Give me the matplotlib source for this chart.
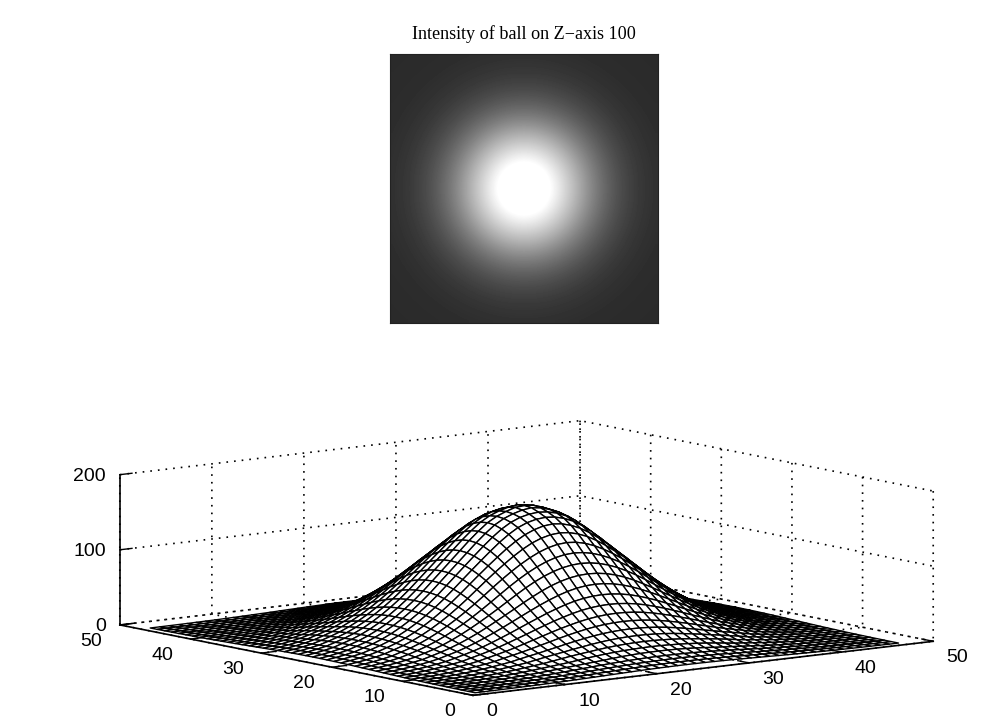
import numpy as np
import matplotlib
matplotlib.use('Agg')
from matplotlib import pyplot as plt

# height of the ball against distance from its centre
radius = list(range(34))
height = [173, 172, 168, 163, 156, 146, 135, 123, 111, 99, 87, 75, 64, 54, 45, 37, 30,
          24, 19, 15, 11, 8.5, 6.3, 4.6, 3.3, 2.3, 1.6, 1.1, 0.7, 0.5, 0.3, 0.2, 0.1, 0.1]
grid_index = list(range(1, 48))
ball_centre = 24

title = 'Intensity of ball on Z\u2212axis 100'
xy_ticks = [0, 10, 20, 30, 40, 50]
z_ticks = [0, 100, 200]

plt.rcParams['font.family'] = ['Liberation Sans', 'DejaVu Sans']
plt.rcParams['grid.color'] = 'black'
plt.rcParams['grid.linewidth'] = 1.2
plt.rcParams['grid.linestyle'] = (0, (1, 3.6))
plt.rcParams['xtick.major.width'] = 1.0
plt.rcParams['ytick.major.width'] = 1.0

X, Y = np.meshgrid(grid_index, grid_index)
R = np.hypot(X - ball_centre, Y - ball_centre)
Z = np.interp(R, radius, height)

fig = plt.figure(figsize=(9.84, 7.25), dpi=100, facecolor='white')

# mesh view, axes box made big so the surface is not clipped at its corners
ax = fig.add_axes([13 / 984, -346.5 / 725, 1000 / 984, 1000 / 725], projection='3d', proj_type='ortho')
ax.patch.set_alpha(0)
ax.view_init(elev=8.8, azim=-127.5)
ax.set_box_aspect((580, 580, 152), zoom=0.81)
ax.set_xlim(0, 50)
ax.set_ylim(0, 50)
ax.set_zlim(0, 200)
ax.plot_surface(X, Y, Z, rstride=1, cstride=1, color='white', edgecolor='black',
                linewidth=1.0, shade=False, antialiased=True)
ax.set_xticks(xy_ticks)
ax.set_yticks(xy_ticks)
ax.set_zticks(z_ticks)
ax.tick_params(axis='x', labelsize=14, pad=5.8)
ax.tick_params(axis='y', labelsize=14, pad=6.2)
ax.tick_params(axis='z', labelsize=14, pad=-1.6)
for lab in ax.get_xticklabels():
    lab.set_ha('left')
for lab in ax.get_yticklabels():
    lab.set_ha('right')
for lab in ax.get_zticklabels():
    lab.set_ha('right')
    lab.set_va('center_baseline')
for axis in (ax.xaxis, ax.yaxis, ax.zaxis):
    axis.set_pane_color((1, 1, 1, 0))
    axis.pane.set_edgecolor('none')
    axis.line.set_color('black')
    axis.line.set_linewidth(1.2)
    axis._axinfo['tick']['inward_factor'] = 0.0
    axis._axinfo['tick']['outward_factor'] = 0.4
ax.zaxis._axinfo['tick']['outward_factor'] = 0.33

# intensity image
ax2 = fig.add_axes([390 / 984, 1 - 323 / 725, 268 / 984, 269 / 725])
ax2.imshow(Z, cmap='gray', vmin=-30, vmax=150, interpolation='bilinear', aspect='auto')
ax2.set_xticks([])
ax2.set_yticks([])
for s in ax2.spines.values():
    s.set_color('#222222')
    s.set_linewidth(0.8)
ax2.set_title(title, fontname='Liberation Serif', fontsize=13.1, pad=11)

fig.savefig('out.png', dpi=100, facecolor='white')
